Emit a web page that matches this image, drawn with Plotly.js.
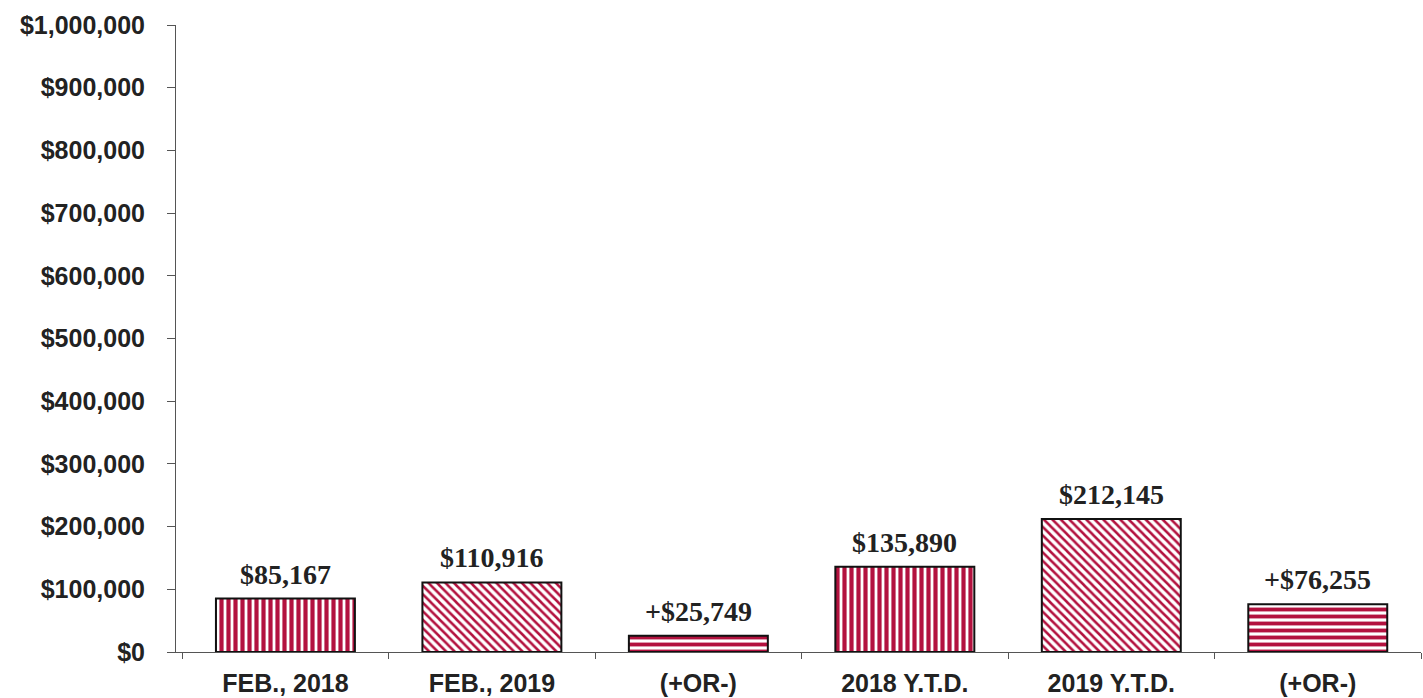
<!DOCTYPE html>
<html>
<head>
<meta charset="utf-8">
<script src="https://cdn.plot.ly/plotly-3.0.1.min.js"></script>
<style>html,body{margin:0;padding:0;background:#fff;}#chart{width:1423px;height:698px;}</style>
</head>
<body>
<div id="chart"></div>
<script>
const categories = ["FEB., 2018", "FEB., 2019", "(+OR-)", "2018 Y.T.D.", "2019 Y.T.D.", "(+OR-)"];
const catKeys = ["c1", "c2", "c3", "c4", "c5", "c6"];
const values = [85167, 110916, 25749, 135890, 212145, 76255];
const labels = ["$85,167", "$110,916", "+$25,749", "$135,890", "$212,145", "+$76,255"];
const patterns = ["|", "\\", "-", "|", "\\", "-"];
const patternSizes = [7, 6, 7, 7, 6, 7];
const solidities = [0.6, 0.42, 0.55, 0.6, 0.42, 0.55];
const yTickVals = [0, 100000, 200000, 300000, 400000, 500000, 600000, 700000, 800000, 900000, 1000000];
const yTickText = ["$0", "$100,000", "$200,000", "$300,000", "$400,000", "$500,000", "$600,000", "$700,000", "$800,000", "$900,000", "$1,000,000"];

const crimson = "#b3123f";

const trace = {
  type: "bar",
  x: catKeys,
  y: values,
  marker: {
    color: "white",
    line: {color: "#111", width: 2},
    pattern: {shape: patterns, fgcolor: crimson, bgcolor: "white", size: patternSizes, solidity: solidities, fillmode: "replace"}
  },
  hoverinfo: "skip"
};

const annotations = catKeys.map((k, i) => ({
  x: k, y: values[i], xref: "x", yref: "y",
  text: labels[i], showarrow: false, yanchor: "bottom", yshift: 7,
  font: {family: "Liberation Serif", size: 28, color: "#222", weight: "bold"}
}));

const layout = {
  width: 1423, height: 698,
  margin: {l: 176, r: 2, t: 25, b: 46},
  paper_bgcolor: "white", plot_bgcolor: "white",
  showlegend: false,
  bargap: 0.327,
  xaxis: {
    type: "category",
    tickvals: catKeys, ticktext: categories,
    range: [-0.53, 5.5],
    tickson: "boundaries",
    ticks: "outside", ticklen: 6, tickcolor: "#555",
    showline: true, linecolor: "#555", linewidth: 1,
    showgrid: false, zeroline: false,
    ticklabelstandoff: 9,
    tickfont: {family: "Liberation Sans", size: 25, color: "#222", weight: "bold"}
  },
  yaxis: {
    range: [0, 1000000],
    tickvals: yTickVals, ticktext: yTickText,
    ticks: "outside", ticklen: 8, tickcolor: "#555",
    showline: true, linecolor: "#555", linewidth: 1,
    showgrid: false, zeroline: false,
    ticklabelstandoff: 17,
    tickfont: {family: "Liberation Sans", size: 25, color: "#222", weight: "bold"}
  },
  annotations: annotations
};

Plotly.newPlot("chart", [trace], layout, {staticPlot: true, displayModeBar: false});
</script>
</body>
</html>
